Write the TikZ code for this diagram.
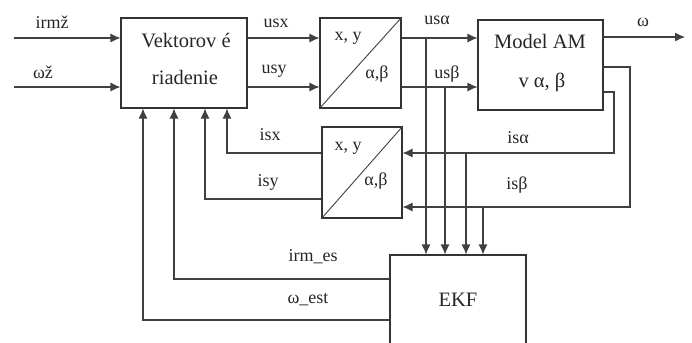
\documentclass[tikz,border=0pt]{standalone}
\usepackage{fontspec}
\setmainfont{Liberation Serif}
\usepackage{tikz}
\usetikzlibrary{positioning, arrows.meta, calc}

\begin{document}
\begin{tikzpicture}[x=1pt, y=-1pt,
  block/.style={draw=black!80, line width=1.1pt, fill=white, inner sep=0pt},
  btext/.style={font=\fontsize{20.5}{24}\selectfont, text=black!85, inner sep=0pt},
  lbl/.style={font=\fontsize{18}{20}\selectfont, text=black!85, inner sep=0pt},
  wire/.style={draw=black!75, line width=1.1pt},
  arr/.style={wire, -{Latex[length=10pt, width=9pt]}}]
\useasboundingbox (0,0) rectangle (692,342);

% Blocks
\node[block, minimum width=126pt, minimum height=90pt] (vr) at (184,63) {};
\node[block, minimum width=81pt, minimum height=90pt] (trA) at (360.5,63) {};
\node[block, minimum width=125pt, minimum height=90pt] (am) at (540.5,65) {};
\node[block, minimum width=80pt, minimum height=91pt] (trB) at (362,172.5) {};
\node[block, minimum width=136pt, minimum height=150pt] (ekf) at (458,330) {};

% Block texts
\node[btext] at (186,41) {Vektorov é};
\node[btext] at (185,77) {riadenie};
\node[btext] at (540,41) {Model AM};
\node[btext] at (542,82) {v α, β};
\node[btext] at (458,300) {EKF};
\draw[wire, line width=0.9pt] (trA.south west) -- (trA.north east);
\draw[wire, line width=0.9pt] (trB.south west) -- (trB.north east);
\node[lbl] at (348,38) {x, y};
\node[lbl] at (377,74) {α,β};
\node[lbl] at (348,148) {x, y};
\node[lbl] at (376,181) {α,β};

% Inputs and outputs
\coordinate (irmIn) at (14,38);
\coordinate (wIn) at (14,87);
\coordinate (wOut) at (685,37);
\draw[arr] (irmIn) -- (irmIn -| vr.west);
\draw[arr] (wIn) -- (wIn -| vr.west);
\draw[arr] (am.east |- wOut) -- (wOut);

% Forward path
\draw[arr] (vr.east |- irmIn) -- (trA.west |- irmIn);
\draw[arr] (vr.east |- wIn) -- (trA.west |- wIn);
\draw[arr] (trA.east |- irmIn) -- (am.west |- irmIn);
\draw[arr] (trA.east |- wIn) -- (am.west |- wIn);

% Measured currents
\coordinate (isA) at (614,153);
\coordinate (isB) at (630,207);
\draw[arr] (am.east |- 0,92) -| (isA) -- (isA -| trB.east);
\draw[arr] (am.east |- 0,67) -| (isB) -- (isB -| trB.east);
\draw[arr] (trB.west |- isA) -| (vr.south -| 227,0);
\draw[arr] (trB.west |- 0,199) -| (vr.south -| 205,0);

% Estimator
\foreach \x/\y in {426/38, 445/87, 466/153, 483/207}
  \draw[arr] (\x,\y) -- (ekf.north -| \x,0);
\draw[arr] (ekf.west |- 0,279) -| (vr.south -| 174,0);
\draw[arr] (ekf.west |- 0,320) -| (vr.south -| 143,0);

% Labels
\node[lbl] at (52,22) {irmž};
\node[lbl] at (43,72) {ωž};
\node[lbl] at (276,23) {usx};
\node[lbl] at (274,71) {usy};
\node[lbl] at (437,20) {usα};
\node[lbl] at (447,74) {usβ};
\node[lbl] at (643,22) {ω};
\node[lbl] at (518,138) {isα};
\node[lbl] at (517,185) {isβ};
\node[lbl] at (270,135) {isx};
\node[lbl] at (268,182) {isy};
\node[lbl] at (313,257) {irm\_es};
\node[lbl] at (308,300) {ω\_est};
\end{tikzpicture}
\end{document}
